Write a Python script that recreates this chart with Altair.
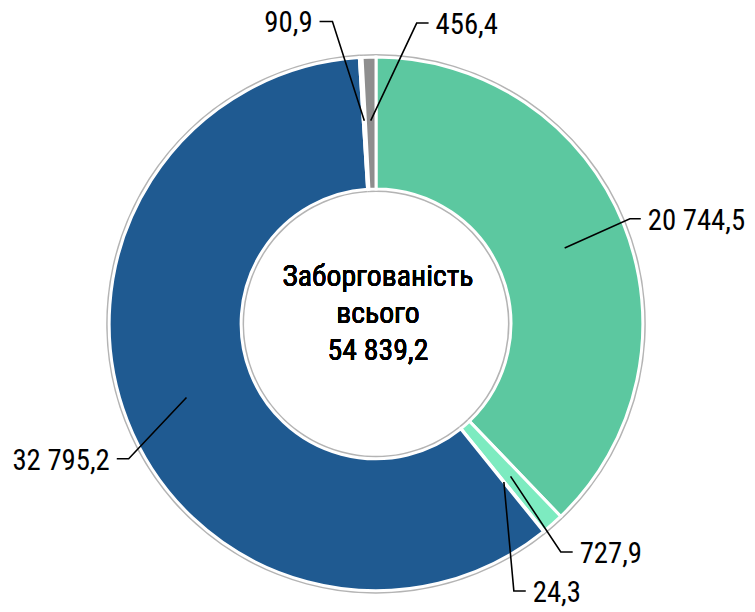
import numpy as np
import pandas as pd
import altair as alt

# ---- data ----
categories = ["s1", "s2", "s3", "s4", "s5", "s6"]
values = [20744.5, 727.9, 24.3, 32795.2, 90.9, 456.4]
center_title = ["Заборгованість", "всього"]

# ---- styles / layout ----
colors = ["#5CC8A0", "#7DEBC0", "#E4F1EA", "#1F5A91", "#C9C9C9", "#8E8E8E"]
elbow_angle = [67.5, 141.0, 152.7, 241.4, 351.8, 7.7]
elbow_radius = [277, 296, 303, 284, 308, 306]
tail = [11, 12, 12, -12, -13, 12]
start_radius = 205
W, H = 745, 602
CX, CY = 371, 316
R_OUT, R_IN = 269, 136
FONT = "Roboto Condensed, Liberation Sans Narrow, sans-serif"
FS_LABEL = 29
FS_CENTER = 30


def fmt(v):
    return f"{v:,.1f}".replace(",", " ").replace(".", ",")


vals = np.array(values)
total = vals.sum()
cum = np.cumsum(vals)
mid = ((cum - vals) + vals / 2) / total * 2 * np.pi

df = pd.DataFrame({"cat": categories, "value": values, "idx": range(len(values)),
                   "label": [fmt(v) for v in values]})

# leader line points (x right, y up, relative to centre)
rows = []
lab = []
for i, c in enumerate(categories):
    sx, sy = start_radius * np.sin(mid[i]), start_radius * np.cos(mid[i])
    a = np.deg2rad(elbow_angle[i])
    ex, ey = elbow_radius[i] * np.sin(a), elbow_radius[i] * np.cos(a)
    tx, ty = ex + tail[i], ey
    rows += [{"cat": c, "k": 0, "x": sx, "y": sy},
             {"cat": c, "k": 1, "x": ex, "y": ey},
             {"cat": c, "k": 2, "x": tx, "y": ty}]
    d = 1 if tail[i] > 0 else -1
    lab.append({"cat": c, "x": tx + d * 7, "y": ty - 2, "dir": d, "label": fmt(values[i])})
lines_df = pd.DataFrame(rows)
lab_df = pd.DataFrame(lab)

xs = alt.Scale(domain=[-CX, W - CX])
ys = alt.Scale(domain=[-(H - CY), CY])

ring = alt.Chart(df).mark_arc(outerRadius=R_OUT + 3, innerRadius=R_IN - 3, color="#B4B4B4").encode(
    theta=alt.Theta("value:Q", stack=True),
    order=alt.Order("idx:Q"),
    x=alt.value(CX), y=alt.value(CY),
)

arcs = alt.Chart(df).mark_arc(outerRadius=R_OUT, innerRadius=R_IN, stroke="white", strokeWidth=3).encode(
    theta=alt.Theta("value:Q", stack=True),
    order=alt.Order("idx:Q"),
    color=alt.Color("cat:N", scale=alt.Scale(domain=categories, range=colors), legend=None),
    x=alt.value(CX), y=alt.value(CY),
)

leaders = alt.Chart(lines_df).mark_line(color="black", strokeWidth=1.6).encode(
    x=alt.X("x:Q", scale=xs, axis=None),
    y=alt.Y("y:Q", scale=ys, axis=None),
    detail="cat:N",
    order="k:Q",
)

txt_r = alt.Chart(lab_df).transform_filter("datum.dir > 0").mark_text(
    align="left", baseline="middle", font=FONT, fontSize=FS_LABEL, color="black").encode(
    x=alt.X("x:Q", scale=xs, axis=None), y=alt.Y("y:Q", scale=ys, axis=None), text="label:N")
txt_l = alt.Chart(lab_df).transform_filter("datum.dir < 0").mark_text(
    align="right", baseline="middle", font=FONT, fontSize=FS_LABEL, color="black").encode(
    x=alt.X("x:Q", scale=xs, axis=None), y=alt.Y("y:Q", scale=ys, axis=None), text="label:N")

center = alt.Chart(df).mark_text(
    align="center", baseline="middle", font=FONT, fontSize=FS_CENTER,
    lineHeight=37, color="black").encode(
    x=alt.value(CX + 2), y=alt.value(CY - 47),
    text=alt.value(center_title + [fmt(total)]),
)

chart = alt.layer(ring, arcs, leaders, txt_r, txt_l, center).properties(
    width=W, height=H, padding=0, autosize="none"
).configure_view(stroke=None)

chart.save("out.html", embed_options={"renderer": "svg", "actions": False})
